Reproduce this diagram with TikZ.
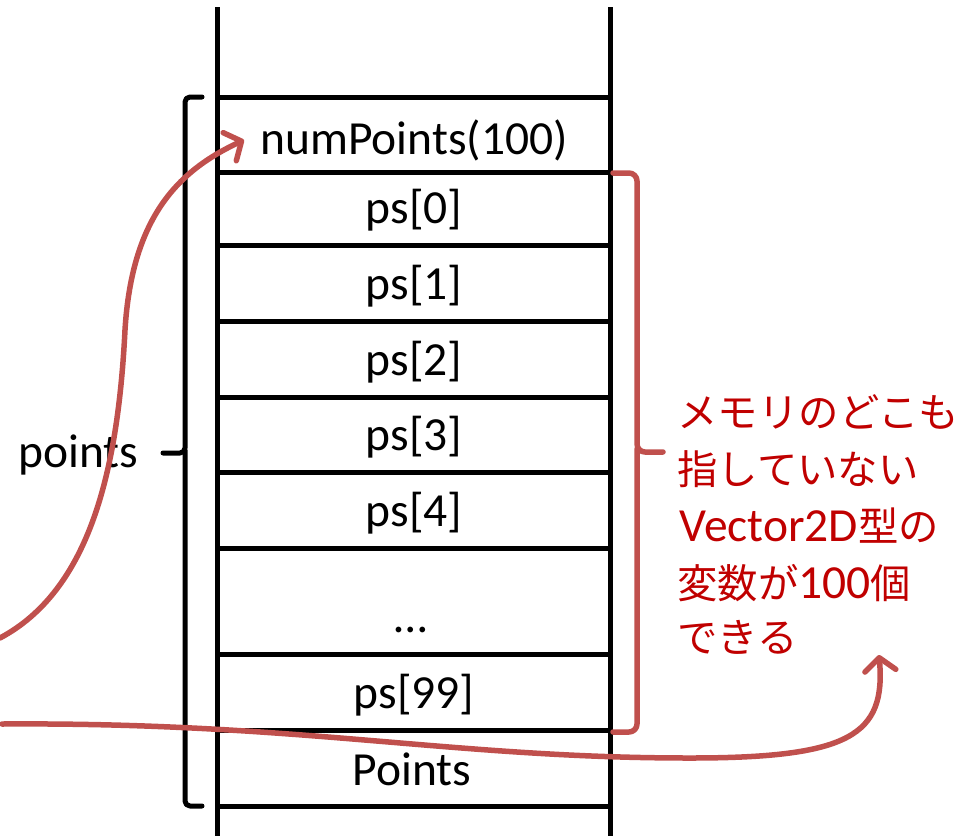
\documentclass[tikz,border=0pt]{standalone}
\usepackage{fontspec}
\setmainfont{Carlito}
\newfontfamily\cjk[Scale=0.85]{Noto Sans CJK JP}
\usetikzlibrary{arrows.meta}
\definecolor{memred}{HTML}{C00000}
\definecolor{arrred}{HTML}{C0504D}

\begin{document}
\begin{tikzpicture}[x=1pt, y=-1pt, line width=5.0pt, line join=round,
  cell/.style={anchor=base, inner sep=0pt, font=\fontsize{47.5}{55}\selectfont},
  memo/.style={anchor=base west, inner sep=0pt, text=memred, font=\fontsize{47.5}{57}\selectfont},
  redline/.style={draw=arrred, line width=5.5pt, line cap=round},
  redarrow/.style={redline, -{Straight Barb[length=13pt,width=31pt,line cap=round,line join=round]}}]

  %% ════ 栈的两条竖边 ════
  \draw (217.0,7.0) -- (217.0,836.0);
  \draw (610.0,7.0) -- (610.0,836.0);

  %% ════ 各格的横线 ════
  \draw (217.0,97.0)  -- (610.0,97.0);
  \draw (217.0,172.0) -- (610.0,172.0);
  \draw (217.0,245.0) -- (610.0,245.0);
  \draw (217.0,321.0) -- (610.0,321.0);
  \draw (217.0,397.0) -- (610.0,397.0);
  \draw (217.0,472.0) -- (610.0,472.0);
  \draw (217.0,548.0) -- (610.0,548.0);
  \draw (217.0,654.0) -- (610.0,654.0);
  \draw (217.0,730.0) -- (610.0,730.0);
  \draw (217.0,806.0) -- (610.0,806.0);

  %% ════ 格内文字（基线位置）════
  \node[cell] (np)  at (414.0,154.0) {numPoints(100)};
  \node[cell] (ps0) at (414.0,223.0) {ps[0]};
  \node[cell] (ps1) at (414.0,299.0) {ps[1]};
  \node[cell] (ps2) at (414.0,375.0) {ps[2]};
  \node[cell] (ps3) at (414.0,450.0) {ps[3]};
  \node[cell] (ps4) at (414.0,526.0) {ps[4]};
  \node[cell] (dots) at (411.0,632.0) {…};
  \node[cell] (ps99) at (414.0,708.0) {ps[99]};
  \node[cell] (pts) at (412.0,785.0) {Points};

  %% ════ 左侧黑色括号 + points ════
  \draw[rounded corners=5pt, line cap=round] (202.0,97.0) -| (185.0,453.0) -- (163.0,453.0);
  \draw[rounded corners=5pt, line cap=round] (185.0,450.0) |- (202.0,806.0);
  \node[cell, anchor=base west] (lbl) at (16.0,467.0) {points};

  %% ════ 右侧红色括号 ════
  \draw[redline, rounded corners=8pt] (613.0,173.0) -| (637.0,452.0) -- (663.0,452.0);
  \draw[redline, rounded corners=8pt] (637.0,449.0) |- (613.0,732.0);

  %% ════ 说明文字 ════
  \node[memo] (memo1) at (675.0,427.0) {\cjk メモリのどこも};
  \node[memo] (memo2) at (675.0,484.0) {\cjk 指していない};
  \node[memo] (memo3) at (677.0,541.0) {Vector2D{\cjk 型の}};
  \node[memo] (memo4) at (675.0,598.0) {{\cjk 変数が}100{\cjk 個}};
  \node[memo] (memo5) at (675.0,652.0) {\cjk できる};

  %% ════ 红色箭头（起点在画布外）════
  \coordinate (src1) at (0.0,638.0);
  \coordinate (tip1) at (244.0,140.0);
  \coordinate (src2) at (2.0,724.0);
  \coordinate (tip2) at (879.0,655.0);
  \draw[redarrow] (src1) .. controls (90.0,590.0) and (118.0,470.0) .. (125.0,330.0)
                         .. controls (132.0,215.0) and (180.0,170.0) .. (tip1);
  \draw[redarrow] (src2) .. controls (300.0,722.0) and (450.0,758.0) .. (690.0,758.0)
                         .. controls (850.0,758.0) and (886.0,735.0) .. (tip2);

  \pgfresetboundingbox
  \path[use as bounding box] (0,0) rectangle (961,836);
\end{tikzpicture}
\end{document}
